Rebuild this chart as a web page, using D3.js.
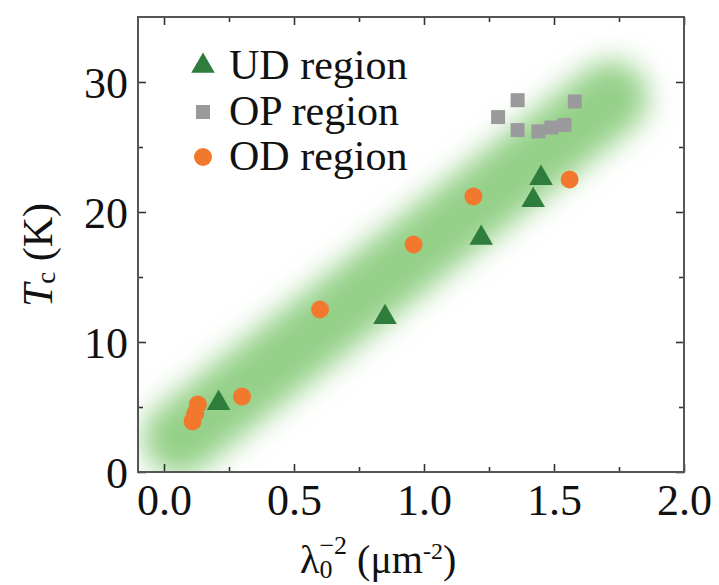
<!DOCTYPE html>
<html>
<head>
<meta charset="utf-8">
<script src="https://cdn.jsdelivr.net/npm/d3@7"></script>
<style>
body{margin:0;background:#fff;}
svg text{font-family:"Liberation Serif","Times New Roman",serif;fill:#111;}
</style>
</head>
<body>
<div id="chart"></div>
<script>
// values
var udX=[0.21,0.85,1.22,1.42,1.45];
var udY=[5.3,11.9,18.0,20.9,22.6];
var opX=[1.285,1.36,1.36,1.44,1.49,1.54,1.58];
var opY=[27.3,28.6,26.3,26.2,26.5,26.7,28.5];
var odX=[0.13,0.12,0.11,0.30,0.60,0.96,1.19,1.56];
var odY=[5.2,4.5,3.9,5.8,12.5,17.5,21.2,22.5];
var bandX=[0.06,1.72];
var bandY=[2.6,28.8];
var xTicks=[0.0,0.5,1.0,1.5,2.0];
var yTicks=[0,10,20,30];
var legendNames=["UD region","OP region","OD region"];

var wide=719,high=585;
var pLeft=138,pRight=684,pTop=17,pBottom=472;
var svg=d3.select("#chart").append("svg").attr("width",wide).attr("height",high);

var xscale=d3.scaleLinear().domain([-0.1,2.0]).range([pLeft,pRight]);
var yscale=d3.scaleLinear().domain([0,35]).range([pBottom,pTop]);

var defs=svg.append("defs");
defs.append("clipPath").attr("id","plotClip")
  .append("rect").attr("x",pLeft).attr("y",pTop).attr("width",pRight-pLeft).attr("height",pBottom-pTop);
defs.append("filter").attr("id","soft").attr("x","-50%").attr("y","-50%").attr("width","200%").attr("height","200%")
  .append("feGaussianBlur").attr("stdDeviation",14);

// green guide band
svg.append("g").attr("clip-path","url(#plotClip)")
  .append("line")
  .attr("x1",xscale(bandX[0])).attr("y1",yscale(bandY[0]))
  .attr("x2",xscale(bandX[1])).attr("y2",yscale(bandY[1]))
  .attr("stroke","#94d088")
  .attr("stroke-width",74)
  .attr("stroke-linecap","round")
  .attr("filter","url(#soft)");

// axes, ticks inward
var minorX=[0.25,0.75,1.25,1.75];
var minorY=[5,15,25];
function tickGroup(axis,tr){
  var g=svg.append("g").attr("transform",tr).call(axis);
  g.select(".domain").remove();
  g.selectAll("line").attr("stroke","#333").attr("stroke-width",1.6);
  return g;
}
var xaxis=d3.axisBottom(xscale).tickValues(xTicks).tickSize(-8).tickPadding(14).tickFormat(d3.format(".1f"));
var gx=tickGroup(xaxis,"translate(0,"+pBottom+")");
gx.selectAll("text").attr("font-size",44).attr("dy","0.66em").attr("fill","#111");
tickGroup(d3.axisBottom(xscale).tickValues(minorX).tickSize(-5).tickFormat(""),"translate(0,"+pBottom+")");
tickGroup(d3.axisTop(xscale).tickValues(xTicks).tickSize(-8).tickFormat(""),"translate(0,"+pTop+")");
tickGroup(d3.axisTop(xscale).tickValues(minorX).tickSize(-5).tickFormat(""),"translate(0,"+pTop+")");

var yaxis=d3.axisLeft(yscale).tickValues(yTicks).tickSize(-8).tickPadding(10).tickFormat(d3.format("d"));
var gy=tickGroup(yaxis,"translate("+pLeft+",0)");
gy.selectAll("text").attr("font-size",44).attr("dy","0.36em").attr("fill","#111");
tickGroup(d3.axisLeft(yscale).tickValues(minorY).tickSize(-5).tickFormat(""),"translate("+pLeft+",0)");
tickGroup(d3.axisRight(yscale).tickValues(yTicks).tickSize(-8).tickFormat(""),"translate("+pRight+",0)");
tickGroup(d3.axisRight(yscale).tickValues(minorY).tickSize(-5).tickFormat(""),"translate("+pRight+",0)");

svg.append("rect")
  .attr("x",pLeft).attr("y",pTop).attr("width",pRight-pLeft).attr("height",pBottom-pTop)
  .attr("fill","none").attr("stroke","#555").attr("stroke-width",2);

// markers
var tri=d3.symbol().type(d3.symbolTriangle).size(240);
svg.selectAll("path.ud").data(udX).enter().append("path")
  .attr("class","ud")
  .attr("d",tri)
  .attr("transform",function(d,i){return "translate("+xscale(d)+","+yscale(udY[i])+")";})
  .attr("fill","#2e7d3c");
svg.selectAll("rect.op").data(opX).enter().append("rect")
  .attr("class","op")
  .attr("x",function(d){return xscale(d)-7;})
  .attr("y",function(d,i){return yscale(opY[i])-7;})
  .attr("width",14).attr("height",14)
  .attr("fill","#9a9a9c");
svg.selectAll("circle.od").data(odX).enter().append("circle")
  .attr("class","od")
  .attr("cx",function(d){return xscale(d);})
  .attr("cy",function(d,i){return yscale(odY[i]);})
  .attr("r",9)
  .attr("fill","#f2782e");

// legend
var leg=svg.append("g").attr("transform","translate(203,0)");
var rows=[66,112,157];
leg.append("path").attr("d",tri).attr("transform","translate(0,"+rows[0]+")").attr("fill","#2e7d3c");
leg.append("rect").attr("x",-7).attr("y",rows[1]-7).attr("width",14).attr("height",14).attr("fill","#9a9a9c");
leg.append("circle").attr("cx",0).attr("cy",rows[2]).attr("r",9).attr("fill","#f2782e");
leg.selectAll("text").data(legendNames).enter().append("text")
  .attr("x",26)
  .attr("y",function(d,i){return rows[i]+13;})
  .attr("font-size",42)
  .text(function(d){return d;});

// axis titles
var yt=svg.append("text")
  .attr("transform","translate(52,255)rotate(-90)")
  .attr("text-anchor","middle")
  .attr("font-size",42);
yt.append("tspan").attr("font-style","italic").text("T");
yt.append("tspan").attr("font-size",27).attr("dy",3).text("c");
yt.append("tspan").attr("dy",-3).text(" (K)");

var xt=svg.append("text")
  .attr("x",300)
  .attr("y",573)
  .attr("font-size",40);
xt.append("tspan").text("\u03bb");
xt.append("tspan").attr("font-size",26).attr("dy",5).text("0");
xt.append("tspan").attr("font-size",26).attr("dx",-13).attr("dy",-24).text("\u22122");
xt.append("tspan").attr("dy",19).text(" (\u03bcm");
xt.append("tspan").attr("font-size",24).attr("dy",-14).text("-2");
xt.append("tspan").attr("dy",14).text(")");
</script>
</body>
</html>
